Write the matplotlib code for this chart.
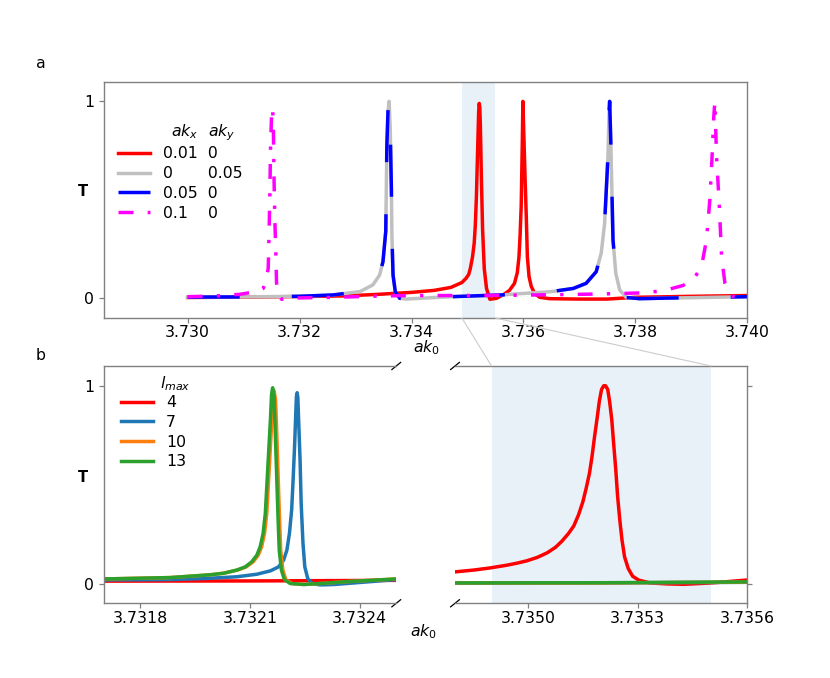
import matplotlib
matplotlib.use('Agg')
import matplotlib.pyplot as plt
from matplotlib.patches import ConnectionPatch

plt.rcParams['font.family'] = ['DejaVu Sans']
plt.rcParams['mathtext.fontset'] = 'dejavusans'
FS = 11.3
SPINE = '#808080'

# ---------------- panel a data: (ak0, T) ----------------
red_a = [(3.7300, 0.004), (3.7310, 0.006), (3.7320, 0.009), (3.7328, 0.012), (3.7334, 0.020),
         (3.7340, 0.030), (3.7344, 0.040), (3.7347, 0.055), (3.7349, 0.080), (3.73497, 0.10),
         (3.73502, 0.12), (3.73505, 0.15), (3.73509, 0.21), (3.73512, 0.28), (3.73514, 0.37),
         (3.73516, 0.52), (3.73518, 0.74), (3.73520, 0.95), (3.73521, 0.99), (3.73522, 0.97),
         (3.73523, 0.88), (3.73524, 0.74), (3.73525, 0.59), (3.73527, 0.35), (3.73530, 0.15),
         (3.73534, 0.05), (3.73540, -0.005), (3.73552, 0.0), (3.73565, 0.02), (3.73575, 0.04),
         (3.73584, 0.076), (3.73589, 0.13), (3.73592, 0.21), (3.73594, 0.32), (3.73596, 0.47),
         (3.73598, 0.80), (3.73599, 1.0), (3.73601, 0.80), (3.73603, 0.60), (3.73605, 0.42),
         (3.73607, 0.21), (3.73610, 0.11), (3.73614, 0.06), (3.73620, 0.025), (3.73629, 0.005),
         (3.73647, -0.002), (3.7370, -0.004), (3.7375, -0.004), (3.7380, 0.005), (3.7390, 0.010),
         (3.7400, 0.014)]

gray_blue_a = [(3.7300, 0.006), (3.7310, 0.007), (3.7320, 0.010), (3.7326, 0.017), (3.73308, 0.034),
               (3.73331, 0.068), (3.73343, 0.118), (3.73349, 0.186), (3.73354, 0.34), (3.73355, 0.56),
               (3.73356, 0.78), (3.73358, 0.95), (3.73360, 1.0), (3.73362, 0.86), (3.73364, 0.56),
               (3.73365, 0.32), (3.73367, 0.118), (3.73371, 0.034), (3.73379, 0.0), (3.73391, -0.004),
               (3.73415, 0.0), (3.7347, 0.008), (3.7356, 0.017), (3.7365, 0.034), (3.73689, 0.05),
               (3.73712, 0.076), (3.73730, 0.135), (3.73739, 0.23), (3.73745, 0.38), (3.73748, 0.55),
               (3.73751, 0.72), (3.73753, 0.95), (3.73754, 1.0), (3.73756, 0.80), (3.73758, 0.55),
               (3.73760, 0.296), (3.73765, 0.127), (3.73772, 0.042), (3.73784, 0.004), (3.73808, -0.002),
               (3.73855, 0.001), (3.7392, 0.004), (3.7400, 0.008)]

magenta_a = [(3.7300, 0.008), (3.7305, 0.012), (3.73093, 0.02), (3.73125, 0.035), (3.73135, 0.05),
             (3.73140, 0.09), (3.73144, 0.152), (3.731457, 0.355), (3.73147, 0.54), (3.731482, 0.78),
             (3.731500, 0.93), (3.731518, 0.968), (3.731532, 0.86), (3.731545, 0.59), (3.731559, 0.39),
             (3.731577, 0.22), (3.731589, 0.076), (3.73163, 0.01), (3.73168, -0.005), (3.73183, -0.002),
             (3.7320, 0.002), (3.7326, 0.005), (3.7330, 0.008), (3.7335, 0.012), (3.7340, 0.014),
             (3.7348, 0.014), (3.7356, 0.015), (3.7365, 0.018), (3.7374, 0.022), (3.7378, 0.025),
             (3.7382, 0.028), (3.73855, 0.042), (3.73885, 0.065), (3.73903, 0.093), (3.73918, 0.16),
             (3.73927, 0.296), (3.73933, 0.5), (3.73937, 0.72), (3.73940, 0.92), (3.73942, 1.0),
             (3.73945, 0.72), (3.73950, 0.465), (3.73954, 0.211), (3.73960, 0.076), (3.73966, 0.03),
             (3.73971, 0.012), (3.7398, 0.005), (3.7400, 0.008)]

legend_a_labels = ['0.01  0', '0       0.05', '0.05  0', '0.1    0']
xticks_a = [3.730, 3.732, 3.734, 3.736, 3.738, 3.740]

# ---------------- panel b data ----------------
lmax_labels = ['4', '7', '10', '13']
lmax_colors = ['red', 'tab:blue', 'tab:orange', 'tab:green']

left_b = {
    '4': [(3.7317, 0.012), (3.7321, 0.013), (3.7325, 0.016)],
    '7': [(3.7317, 0.018), (3.731882, 0.02), (3.731973, 0.025), (3.732064, 0.034), (3.732119, 0.047),
          (3.732156, 0.064), (3.732178, 0.084), (3.732192, 0.118), (3.732201, 0.169), (3.732208, 0.254),
          (3.732214, 0.372), (3.732218, 0.524), (3.732222, 0.693), (3.732225, 0.846), (3.732227, 0.945),
          (3.732229, 0.965), (3.732231, 0.939), (3.732233, 0.83), (3.732237, 0.626), (3.73224, 0.406),
          (3.732245, 0.203), (3.73225, 0.084), (3.732258, 0.025), (3.73227, 0.0), (3.732292, -0.007),
          (3.73233, -0.005), (3.73242, 0.008), (3.7325, 0.02)],
    '10': [(3.7317, 0.023), (3.731882, 0.030), (3.731937, 0.037), (3.731991, 0.044), (3.732028, 0.052),
           (3.732066, 0.068), (3.73209, 0.084), (3.732109, 0.11), (3.732123, 0.144), (3.732132, 0.186),
           (3.73214, 0.254), (3.732146, 0.355), (3.73215, 0.49), (3.732155, 0.66), (3.73216, 0.83),
           (3.732163, 0.94), (3.732166, 0.975), (3.73217, 0.93), (3.732172, 0.83), (3.732175, 0.66),
           (3.732178, 0.49), (3.732181, 0.321), (3.732184, 0.169), (3.73219, 0.068), (3.732198, 0.02),
           (3.732214, 0.0), (3.732247, -0.005), (3.732292, 0.0), (3.73237, 0.01), (3.7325, 0.023)],
    '13': [(3.7317, 0.023), (3.731882, 0.030), (3.731937, 0.037), (3.731991, 0.044), (3.732028, 0.052),
           (3.732064, 0.068), (3.732087, 0.084), (3.732105, 0.11), (3.732119, 0.144), (3.732128, 0.186),
           (3.732136, 0.254), (3.732142, 0.355), (3.732146, 0.49), (3.732151, 0.66), (3.732156, 0.83),
           (3.732159, 0.956), (3.732162, 0.99), (3.732166, 0.947), (3.732168, 0.83), (3.732171, 0.66),
           (3.732174, 0.49), (3.732177, 0.321), (3.73218, 0.169), (3.732186, 0.068), (3.732194, 0.02),
           (3.73221, 0.0), (3.732247, -0.005), (3.732292, 0.0), (3.73237, 0.01), (3.7325, 0.023)],
}
right_b = {
    '4': [(3.734801, 0.059), (3.734851, 0.068), (3.734897, 0.079), (3.734943, 0.093), (3.734970, 0.103),
          (3.734997, 0.115), (3.735025, 0.132), (3.735052, 0.155), (3.735075, 0.183), (3.735093, 0.215),
          (3.735111, 0.254), (3.735125, 0.291), (3.735138, 0.347), (3.735150, 0.414), (3.735159, 0.482),
          (3.735168, 0.558), (3.735175, 0.643), (3.735182, 0.744), (3.735189, 0.837), (3.735195, 0.922),
          (3.735201, 0.981), (3.735207, 1.0), (3.735212, 1.0), (3.735218, 0.981), (3.735223, 0.922),
          (3.735229, 0.829), (3.735234, 0.711), (3.735240, 0.575), (3.735245, 0.44), (3.735251, 0.321),
          (3.735257, 0.22), (3.735264, 0.135), (3.735274, 0.076), (3.735286, 0.037), (3.735303, 0.017),
          (3.735334, 0.003), (3.735380, -0.002), (3.735426, -0.004), (3.735471, 0.0), (3.735517, 0.005),
          (3.735562, 0.012), (3.735601, 0.018)],
    '7': [(3.7348, 0.002), (3.7352, 0.003), (3.7356, 0.006)],
    '10': [(3.7348, 0.003), (3.7352, 0.003), (3.7356, 0.007)],
    '13': [(3.7348, 0.003), (3.7352, 0.004), (3.7356, 0.008)],
}
xticks_bl = [3.7318, 3.7321, 3.7324]
xticks_br = [3.7350, 3.7353, 3.7356]
zoom_span = (3.7349, 3.7355)


def xy(pairs):
    return [p[0] for p in pairs], [p[1] for p in pairs]


def style_axes(ax):
    for s in ax.spines.values():
        s.set_color(SPINE)
        s.set_linewidth(1.0)
    ax.tick_params(direction='out', length=3.5, width=0.9, color=SPINE,
                   labelsize=FS, labelcolor='black')
    ax.tick_params(axis='x', pad=1.8)


fig = plt.figure(figsize=(8.3, 6.78), dpi=100)
ax_a = fig.add_axes([0.1249, 0.531, 0.7755, 0.3485])
ax_bl = fig.add_axes([0.1249, 0.1102, 0.3525, 0.35])
ax_br = fig.add_axes([0.5482, 0.1102, 0.3522, 0.35])

# ---------------- panel a ----------------
LW = 2.5
ax_a.axvspan(*zoom_span, color='tab:blue', alpha=0.1, lw=0)
ax_a.plot(*xy(red_a), color='red', lw=LW, label=legend_a_labels[0])
ax_a.plot(*xy(gray_blue_a), color='#c0c0c0', lw=LW, label=legend_a_labels[1])
ax_a.plot(*xy(gray_blue_a), color='blue', lw=LW, ls=(0, (15, 15)), label=legend_a_labels[2])
ax_a.plot(*xy(magenta_a), color='magenta', lw=LW, ls=(0, (4.3, 4.1, 0.95, 4.1)),
          label=legend_a_labels[3])
ax_a.set_xlim(3.7285, 3.7400)
ax_a.set_ylim(-0.1, 1.1)
ax_a.set_xticks(xticks_a)
ax_a.set_xticklabels(['%.3f' % t for t in xticks_a])
ax_a.set_yticks([0, 1])
ax_a.set_yticklabels(['0', '1'])
style_axes(ax_a)
ax_a.legend(loc='upper left', bbox_to_anchor=(0.0227, 0.727), frameon=False,
            fontsize=FS, borderpad=0, borderaxespad=0, labelspacing=0.31,
            handlelength=2.0, handletextpad=0.85)
ax_a.text(0.1046, 0.767, '$ak_x$', transform=ax_a.transAxes, fontsize=FS, va='baseline', ha='left')
ax_a.text(0.162, 0.767, '$ak_y$', transform=ax_a.transAxes, fontsize=FS, va='baseline', ha='left')

# ---------------- panel b ----------------
for lab, col in zip(lmax_labels, lmax_colors):
    ax_bl.plot(*xy(left_b[lab]), color=col, lw=LW, label=lab)
ax_br.axvspan(*zoom_span, color='tab:blue', alpha=0.1, lw=0)
for lab, col in zip(lmax_labels, lmax_colors):
    ax_br.plot(*xy(right_b[lab]), color=col, lw=LW)

ax_bl.set_xlim(3.7317, 3.7325)
ax_br.set_xlim(3.7348, 3.7356)
for ax in (ax_bl, ax_br):
    ax.set_ylim(-0.1, 1.1)
    ax.set_yticks([0, 1])
    style_axes(ax)
ax_bl.set_yticklabels(['0', '1'])
ax_bl.set_xticks(xticks_bl)
ax_bl.set_xticklabels(['%.4f' % t for t in xticks_bl])
ax_br.set_xticks(xticks_br)
ax_br.set_xticklabels(['%.4f' % t for t in xticks_br])
ax_bl.spines['right'].set_visible(False)
ax_br.spines['left'].set_visible(False)
ax_br.yaxis.tick_right()
ax_br.tick_params(axis='y', labelright=False)

ax_bl.legend(loc='upper left', bbox_to_anchor=(0.060, 0.876), frameon=False,
             fontsize=FS, borderpad=0, borderaxespad=0, labelspacing=0.29,
             handlelength=2.0, handletextpad=0.85)
ax_bl.text(0.192, 0.906, '$l_{max}$', transform=ax_bl.transAxes, fontsize=FS,
           va='baseline', ha='left')

# break marks
d = 0.015
kw = dict(color='k', clip_on=False, lw=0.9)
ax_bl.plot((1 - d, 1 + d), (-d, d), transform=ax_bl.transAxes, **kw)
ax_bl.plot((1 - d, 1 + d), (1 - d, 1 + d), transform=ax_bl.transAxes, **kw)
ax_br.plot((-d, d), (-d, d), transform=ax_br.transAxes, **kw)
ax_br.plot((-d, d), (1 - d, 1 + d), transform=ax_br.transAxes, **kw)

# zoom connection lines
for xv in zoom_span:
    cp = ConnectionPatch(xyA=(xv, -0.1), coordsA=ax_a.transData,
                         xyB=(xv, 1.1), coordsB=ax_br.transData,
                         color='#cccccc', lw=0.8)
    fig.add_artist(cp)

# figure texts
fig.text(0.049, 0.906, 'a', fontsize=FS, ha='center', va='center')
fig.text(0.049, 0.476, 'b', fontsize=FS, ha='center', va='center')
fig.text(0.1, 0.717, 'T', fontsize=10.5, fontweight='bold', ha='center', va='center')
fig.text(0.1, 0.296, 'T', fontsize=10.5, fontweight='bold', ha='center', va='center')
fig.text(0.497, 0.4805, '$ak_0$', fontsize=FS, ha='left', va='baseline')
fig.text(0.494, 0.0609, '$ak_0$', fontsize=FS, ha='left', va='baseline')

fig.savefig('out.png', dpi=100)
